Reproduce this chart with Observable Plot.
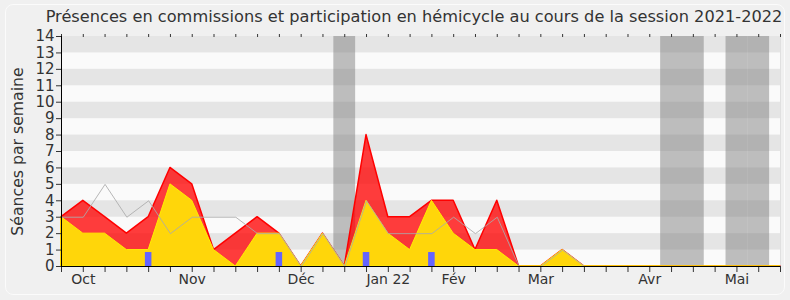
<!DOCTYPE html>
<html>
<head>
<meta charset="utf-8">
<script src="https://cdn.jsdelivr.net/npm/d3@7"></script>
<script src="https://cdn.jsdelivr.net/npm/@observablehq/plot@0.6"></script>
<style>
  body { margin: 0; background: #f0f0f0; }
  #wrap { position: relative; width: 790px; height: 300px; background: #f0f0f0; overflow: hidden; }
  #box { position: absolute; left: 5px; top: 4px; width: 778px; height: 289px; border: 1px solid #fbfbfb; border-radius: 8px; }
  #title { position: absolute; left: 44px; top: 7px; width: 740px; text-align: center; font-family: "DejaVu Sans"; font-size: 16.2px; color: #333; white-space: nowrap; }
  #chart { position: absolute; left: 0; top: 0; }
  #chart g[aria-label="y-axis label"] text { font-size: 15.7px; }
</style>
</head>
<body>
<div id="wrap">
  <div id="box"></div>
  <div id="chart"></div>
  <div id="title">Présences en commissions et participation en hémicycle au cours de la session 2021-2022</div>
</div>
<script>
// week index 0..33
const weeks = d3.range(34);
const presences = [3,4,3,2,3,6,5,1,2,3,2,0,2,0,8,3,3,4,4,1,4,0,0,1,0,0,0,0,0,0,0,0,0,0];
const participation = [3,2,2,1,1,5,4,1,0,2,2,0,2,0,4,2,1,4,2,1,1,0,0,1,0,0,0,0,0,0,0,0,0,0];
const mediane = [3,3,5,3,4,2,3,3,3,2,2,0,2,0,4,2,2,2,3,2,3,0,0,1,0,0,0,0,0,0,0,0,0,0];
const questionWeeks = [4,10,14,17];
const questionValues = [0.85,0.85,0.85,0.85];
const vacationWeeks = [13,28,29,31,32];
const monthTicks = [1,6,11,15,18,22,27,31];
const monthLabels = ["Oct","Nov","Déc","Jan 22","Fév","Mar","Avr","Mai"];
const yTicks = d3.range(0,15);
const stripeStarts = [13,11,9,7,5,3,1];

const rows = weeks.map((w,i) => ({w, p: presences[i], h: participation[i], m: mediane[i]}));
const questions = questionWeeks.map((w,i) => ({w, v: questionValues[i]}));
const labelOf = new Map(monthTicks.map((t,i) => [t, monthLabels[i]]));

const chart = Plot.plot({
  width: 790,
  height: 300,
  marginLeft: 61,
  marginRight: 10,
  marginTop: 36,
  marginBottom: 34,
  style: { background: "transparent", fontFamily: "DejaVu Sans", fontSize: "15px", color: "#333" },
  x: { domain: [0, 33] },
  y: { domain: [0, 14] },
  marks: [
    Plot.frame({ fill: "#fafafa", stroke: "#e0e0e0" }),
    Plot.rect(stripeStarts, { y1: d => d, y2: d => d + 1, fill: "#e5e5e5" }),
    Plot.rect(vacationWeeks, { x1: d => d - 0.5, x2: d => d + 0.5, fill: "#808080", fillOpacity: 0.5 }),
    Plot.areaY(rows, { x: "w", y: "p", fill: "#ff0000", fillOpacity: 0.76, stroke: "#ff0000", strokeWidth: 1.5 }),
    Plot.areaY(rows, { x: "w", y: "h", fill: "#ffd60a", stroke: "#ffee00", strokeWidth: 1 }),
    Plot.rectY(questions, { x1: d => d.w - 0.15, x2: d => d.w + 0.15, y: "v", fill: "#6464ff" }),
    Plot.lineY(rows, { x: "w", y: "m", stroke: "#aaaaaa", strokeOpacity: 0.85, strokeWidth: 1 }),
    Plot.axisY({ ticks: yTicks, tickSize: 5, tickPadding: 2, fontSize: 15, label: "Séances par semaine", labelAnchor: "center", labelArrow: "none", labelOffset: 50 }),
    Plot.axisX({ ticks: weeks, tickSize: 6, tickPadding: 2, fontSize: 14, tickFormat: d => labelOf.get(d) ?? "", label: null }),
    Plot.axisX({ anchor: "top", ticks: weeks, tickSize: 3, tickFormat: () => "", label: null }),
    Plot.ruleY([0], { stroke: "black" }),
    Plot.ruleX([0], { stroke: "black" })
  ]
});
document.getElementById("chart").appendChild(chart);
</script>
</body>
</html>
